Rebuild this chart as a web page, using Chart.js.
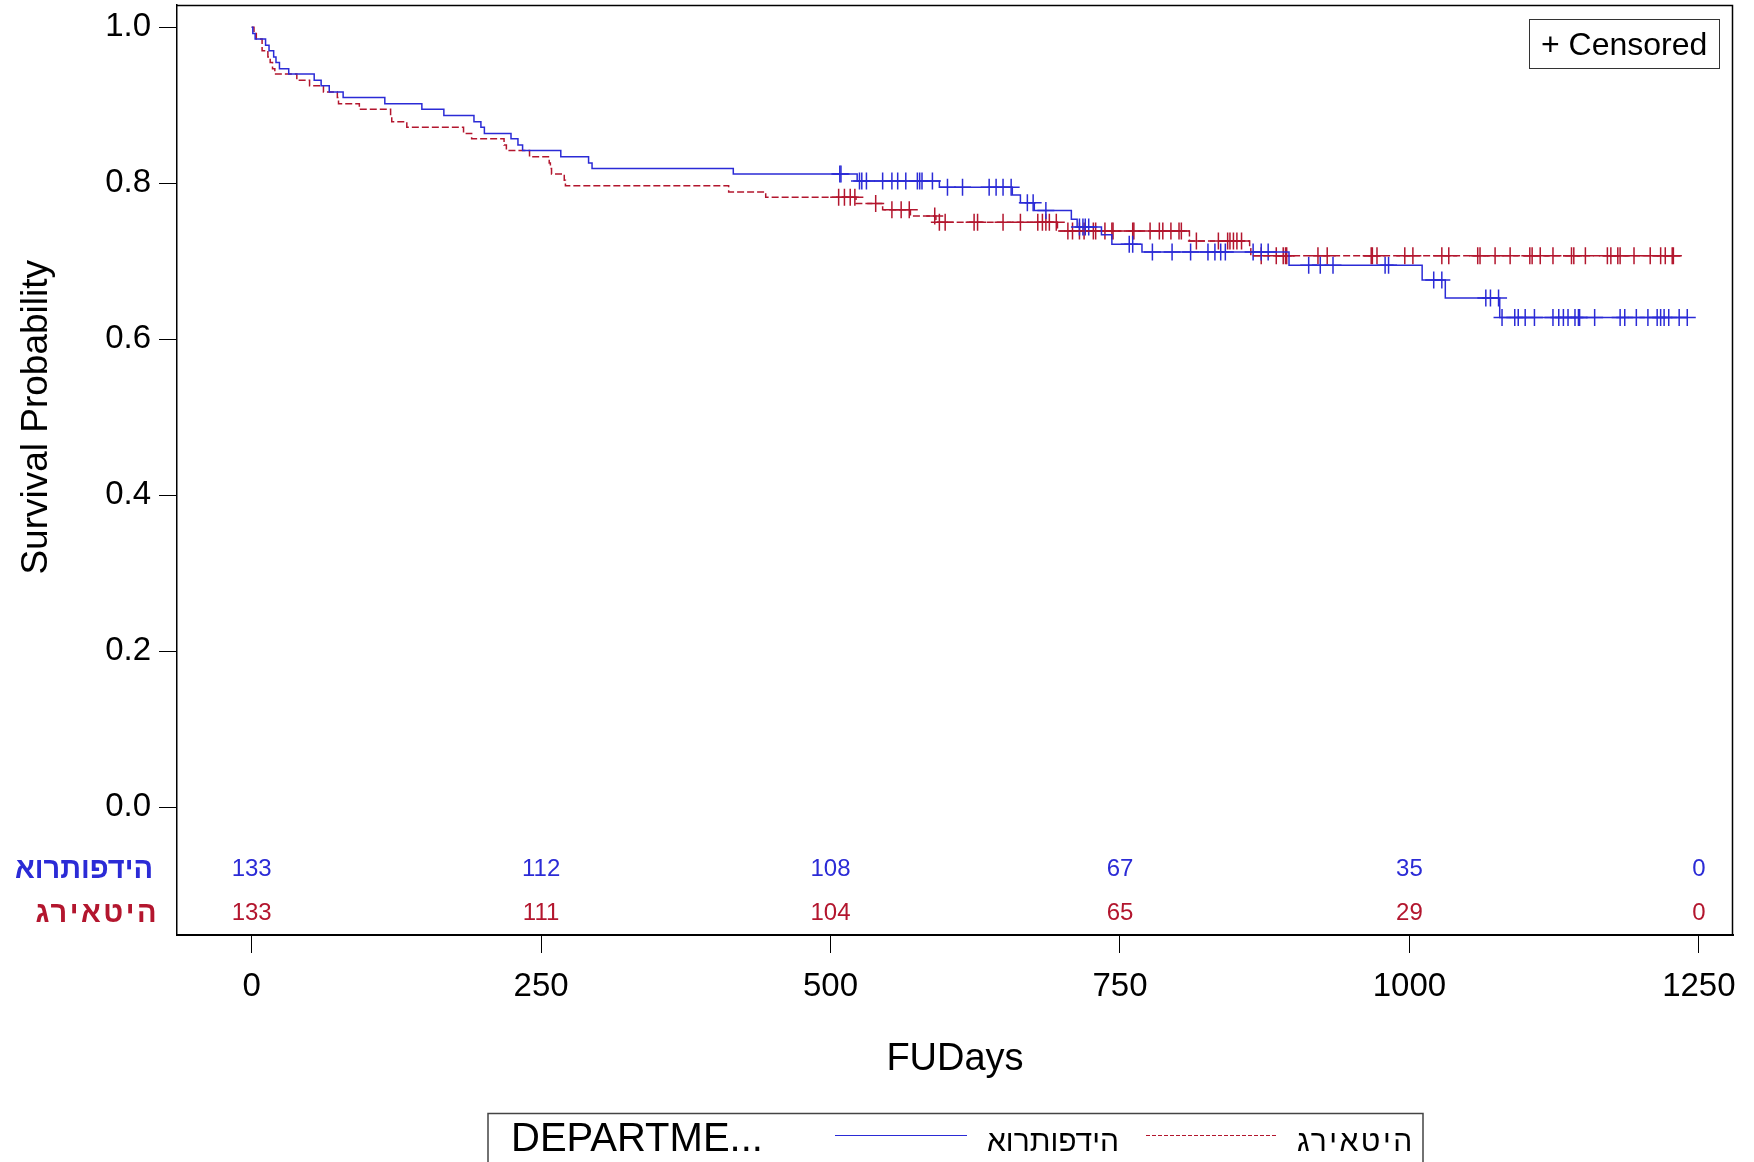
<!DOCTYPE html>
<html>
<head>
<meta charset="utf-8">
<script src="https://cdn.jsdelivr.net/npm/chart.js@4.4.1/dist/chart.umd.min.js"></script>
<style>
  html, body { margin: 0; padding: 0; background: #fff; overflow: hidden; }
  #wrap { width: 1754px; height: 1162px; position: relative; }
</style>
</head>
<body>
<div id="wrap"><canvas id="km"></canvas></div>
<script>
'use strict';

/* ── data ───────────────────────────── */
const groupNames = ['אורתופדיה', 'גריאטיה'];
const legendTitle = 'DEPARTME...';
const xTicks = [0, 250, 500, 750, 1000, 1250];
const yTicks = [0, 0.2, 0.4, 0.6, 0.8, 1.0];

// numbers at risk at each x tick
const riskOrt = [133, 112, 108, 67, 35, 0];
const riskGer = [133, 111, 104, 65, 29, 0];

// orthopaedics: event times and survival after each event
const ortTimes = [0,1,3,12,15,19,21,24,32,54,60,67,79,115,147,166,192,198,201,224,
  230,234,267,291,294,416,523,594,657,664,676,708,713,734,743,769,896,1011,1031,1078,1240];
const ortSurv = [1.000,0.992,0.985,0.977,0.970,0.962,0.955,0.947,0.940,0.932,
  0.925,0.917,0.910,0.902,0.895,0.887,0.879,0.872,0.864,0.857,
  0.849,0.842,0.834,0.826,0.819,0.812,0.803,0.795,0.785,0.775,
  0.765,0.754,0.744,0.734,0.722,0.712,0.695,0.676,0.653,0.628,0.628];
const ortCens = [508,509,525,527,531,545,553,558,565,575,577,579,588,601,614,637,643,649,656,
  670,675,686,715,718,720,723,758,761,778,795,811,826,832,837,841,865,872,878,913,923,934,
  979,982,1021,1028,1066,1070,1077,1080,1091,1094,1100,1108,1124,1129,1133,1137,1143,1146,
  1147,1160,1182,1186,1196,1206,1214,1217,1220,1224,1233,1240];

// geriatrics
const gerTimes = [0,2,4,9,14,16,18,20,39,50,62,74,75,93,120,121,134,183,190,218,
  220,240,257,258,259,270,271,412,444,522,545,569,591,696,810,862,863,1236];
const gerSurv = [1.000,0.992,0.985,0.970,0.962,0.955,0.947,0.940,0.932,0.925,
  0.917,0.910,0.902,0.895,0.887,0.879,0.872,0.864,0.857,0.849,
  0.842,0.834,0.826,0.819,0.812,0.804,0.797,0.789,0.782,0.774,
  0.766,0.758,0.750,0.739,0.726,0.716,0.707,0.707];
const gerCens = [507,512,517,521,539,553,561,568,590,594,599,624,627,649,664,679,683,686,689,695,
  705,709,715,719,727,729,737,743,744,761,762,776,784,787,794,801,803,816,835,843,845,848,
  851,855,872,885,891,893,894,921,929,967,968,972,996,1003,1028,1034,1059,1061,1074,1087,
  1104,1106,1113,1124,1140,1142,1152,1171,1174,1180,1182,1194,1208,1217,1221,1227,1228];

/* ── helpers ────────────────────────── */
const BLUE = '#2b2bd6';
const RED = '#b3162e';
const FONT = "'Liberation Sans', Arial, 'DejaVu Sans', sans-serif";
// the source graphic lays the Hebrew group names out left-to-right
const ltr = s => '\u202D' + s + '\u202C';

const toPts = (ts, ss) => ts.map((t, i) => ({x: t, y: ss[i]}));
function survAt(ts, ss, t) {
  let v = ss[0];
  for (let i = 0; i < ts.length; i++) { if (ts[i] <= t) v = ss[i]; }
  return v;
}
const censPts = (cs, ts, ss) => cs.map(t => ({x: t, y: survAt(ts, ss, t)}));

/* ── extra drawing: frame, at-risk rows, titles, legends ── */
const kmDecor = {
  id: 'kmDecor',
  afterDraw(chart) {
    const {ctx, chartArea: ca, scales: {x, y}} = chart;
    ctx.save();

    // frame top + right
    ctx.strokeStyle = '#000'; ctx.lineWidth = 1.5;
    ctx.beginPath();
    ctx.moveTo(ca.left, ca.top + 0.5); ctx.lineTo(ca.right - 0.5, ca.top + 0.5);
    ctx.lineTo(ca.right - 0.5, ca.bottom);
    ctx.stroke();

    // at-risk rows
    const rowY = [869, 913];
    const rows = [riskOrt, riskGer];
    const cols = [BLUE, RED];
    const labelRight = [153, 159];
    const spacing = ['0px', '2.5px'];
    ctx.textBaseline = 'middle';
    rows.forEach((r, k) => {
      ctx.fillStyle = cols[k];
      ctx.font = '24px ' + FONT;
      ctx.textAlign = 'center';
      r.forEach((n, i) => ctx.fillText(String(n), x.getPixelForValue(xTicks[i]), rowY[k]));
      ctx.font = 'bold 29px ' + FONT;
      ctx.textAlign = 'right';
      ctx.letterSpacing = spacing[k];
      ctx.fillText(ltr(groupNames[k]), labelRight[k], rowY[k] + 1);
      ctx.letterSpacing = '0px';
    });

    // y title
    ctx.save();
    ctx.translate(37, (y.getPixelForValue(0) + y.getPixelForValue(1)) / 2);
    ctx.rotate(-Math.PI / 2);
    ctx.fillStyle = '#000';
    ctx.font = '37px ' + FONT;
    ctx.textAlign = 'center';
    ctx.fillText('Survival Probability', 0, 0);
    ctx.restore();

    // censored key
    ctx.strokeStyle = '#333'; ctx.lineWidth = 1;
    ctx.strokeRect(1529.5, 19.5, 190, 49);
    ctx.fillStyle = '#000';
    ctx.font = '32px ' + FONT;
    ctx.textAlign = 'left';
    ctx.textBaseline = 'alphabetic';
    ctx.fillText('+ Censored', 1541, 55);

    // group legend at bottom
    ctx.strokeStyle = '#444'; ctx.lineWidth = 1.5;
    ctx.beginPath();
    ctx.moveTo(488, 1175); ctx.lineTo(488, 1113.5); ctx.lineTo(1423, 1113.5); ctx.lineTo(1423, 1175);
    ctx.stroke();
    ctx.font = '40px ' + FONT;
    ctx.fillText(legendTitle, 511, 1151);
    ctx.lineWidth = 1.2;
    ctx.strokeStyle = BLUE;
    ctx.beginPath(); ctx.moveTo(835, 1135.5); ctx.lineTo(967, 1135.5); ctx.stroke();
    ctx.strokeStyle = RED;
    ctx.setLineDash([4, 2]);
    ctx.beginPath(); ctx.moveTo(1146, 1135.5); ctx.lineTo(1277, 1135.5); ctx.stroke();
    ctx.setLineDash([]);
    ctx.font = '30px ' + FONT;
    ctx.fillText(ltr(groupNames[0]), 987, 1151);
    ctx.letterSpacing = '2.5px';
    ctx.fillText(ltr(groupNames[1]), 1297, 1151);
    ctx.letterSpacing = '0px';

    ctx.restore();
  }
};

/* ── chart ──────────────────────────── */
new Chart(document.getElementById('km'), {
  type: 'line',
  data: {
    datasets: [
      {label: groupNames[0], data: toPts(ortTimes, ortSurv), stepped: true,
       borderColor: BLUE, borderWidth: 1.5, pointRadius: 0, fill: false},
      {label: groupNames[1], data: toPts(gerTimes, gerSurv), stepped: true,
       borderColor: RED, borderWidth: 1.5, borderDash: [7, 3], pointRadius: 0, fill: false},
      {label: 'cens ' + groupNames[0], data: censPts(ortCens, ortTimes, ortSurv), showLine: false,
       pointStyle: 'cross', pointRadius: 8.5, pointBorderWidth: 1.5, borderColor: BLUE},
      {label: 'cens ' + groupNames[1], data: censPts(gerCens, gerTimes, gerSurv), showLine: false,
       pointStyle: 'cross', pointRadius: 8.5, pointBorderWidth: 1.5, borderColor: RED}
    ]
  },
  options: {
    responsive: true, maintainAspectRatio: false, animation: false,
    layout: {autoPadding: false, padding: {top: 5, right: 21, left: 0, bottom: 0}},
    plugins: {legend: {display: false}, tooltip: {enabled: false}},
    scales: {
      x: {
        type: 'linear', min: -64.5, max: 1279.5,
        afterBuildTicks: s => { s.ticks = xTicks.map(v => ({value: v})); },
        afterFit: s => { s.height = 227; s.paddingLeft = 0; s.paddingRight = 0; },
        grid: {drawOnChartArea: false, drawTicks: true, tickLength: 18, color: '#000', lineWidth: 1},
        border: {display: true, color: '#000', width: 2},
        ticks: {color: '#000', font: {family: FONT, size: 33}, padding: 14, maxRotation: 0,
                callback: v => String(v)},
        title: {display: true, text: 'FUDays', color: '#000', font: {family: FONT, size: 38},
                padding: {top: 0, bottom: 80}}
      },
      y: {
        type: 'linear', min: -0.16372, max: 1.02859,
        afterBuildTicks: s => { s.ticks = yTicks.map(v => ({value: v})); },
        afterFit: s => { s.width = 177; s.paddingTop = 0; s.paddingBottom = 0; },
        grid: {drawOnChartArea: false, drawTicks: true, tickLength: 18, color: '#000', lineWidth: 1},
        border: {display: true, color: '#000', width: 1.5},
        ticks: {color: '#000', font: {family: FONT, size: 33}, padding: 8,
                callback: v => Number(v).toFixed(1)}
      }
    }
  },
  plugins: [kmDecor]
});
</script>
</body>
</html>
